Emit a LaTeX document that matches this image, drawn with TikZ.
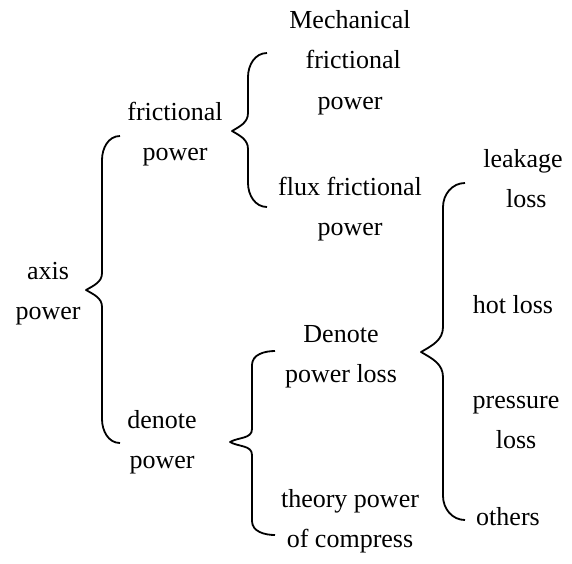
\documentclass[tikz,border=0pt]{standalone}
\usepackage{fontspec}
\setmainfont{Liberation Serif}
\newcommand\mybrace[9]{% #1 name, #2 tip x, #3 stem x, #4 end x, #5 top y, #6 mid y, #7 bottom y, #8 end radius, #9 mid radius
  \coordinate (#1-top) at (#4,-#5);
  \coordinate (#1-tip) at (#2,-#6);
  \coordinate (#1-bot) at (#4,-#7);
  \draw[bracestyle] (#1-top) to[out=180,in=90] (#3,-#5-#8) -- (#3,-#6+#9)
    to[out=-90,in=30] (#1-tip) to[out=-30,in=90] (#3,-#6-#9) -- (#3,-#7+#8)
    to[out=-90,in=180] (#1-bot);}
\begin{document}
\begin{tikzpicture}[x=1pt,y=1pt,
  lbl/.style={inner sep=0pt,anchor=north,align=center,font=\fontsize{26}{40.5}\selectfont},
  bracestyle/.style={line width=1.8pt,line join=round}]
\useasboundingbox (0,0) rectangle (572,-563);
% labels (north = first baseline - 28.35)
\node[lbl] (axis)   at (48,-250.65)  {\strut axis\\\strut power};
\node[lbl] (fric)   at (175,-91.65)  {\strut frictional\\\strut power};
\node[lbl] (den)    at (162,-399.65) {\strut denote\\\strut power};
\node[lbl] (mech)   at (350,0.35)    {\strut Mechanical\\\strut\ frictional\\\strut power};
\node[lbl] (flux)   at (350,-166.65) {\strut flux frictional\\\strut power};
\node[lbl] (dpl)    at (341,-313.65) {\strut Denote\\\strut power loss};
\node[lbl] (theory) at (350,-478.65) {\strut theory power\\\strut of compress};
\node[lbl] (leak)   at (523,-138.65) {\strut leakage\\\strut\ loss};
\node[lbl] (hot)    at (513,-284.65) {\strut hot loss};
\node[lbl] (press)  at (516,-379.65) {\strut pressure\\\strut loss};
\node[lbl] (others) at (508,-496.65) {\strut others};
% braces
\mybrace{b1}{86}{102}{120}{136}{290}{443}{24}{17}
\mybrace{b2}{232}{248}{267}{53}{131}{207}{24}{18}
\mybrace{b3}{230}{252}{275}{351}{442}{535}{14}{13}
\mybrace{b4}{421}{443}{465}{183}{352}{520}{24}{25}
\end{tikzpicture}
\end{document}
